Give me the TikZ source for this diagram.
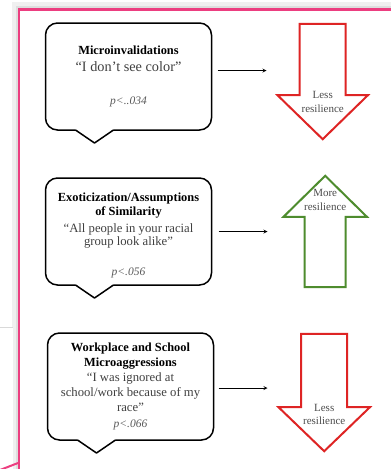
\documentclass[tikz,border=0pt]{standalone}
\usepackage{fontspec}
\setmainfont{Liberation Serif}
\usetikzlibrary{positioning}

\definecolor{framepink}{RGB}{236,62,128}
\definecolor{lessred}{RGB}{222,36,36}
\definecolor{moregreen}{RGB}{78,140,46}

\newcommand{\titlefont}{\fontsize{12.4}{14}\selectfont\bfseries\color{black}}
\newcommand{\quotefont}{\fontsize{12.7}{14}\selectfont\color{black!75}}
\newcommand{\bigquotefont}{\fontsize{14.3}{14}\selectfont\color{black!75}}
\newcommand{\pfont}{\fontsize{11.5}{14}\selectfont\itshape\color{black!65}}

\begin{document}
\begin{tikzpicture}[
    x=1pt, y=-1pt,
    node distance=48pt and 66pt,
    bubble/.style={draw, line width=1.5pt, rounded corners=12pt, minimum width=166pt,
        minimum height=107pt, inner sep=2pt, outer sep=0pt, align=center,
        font=\fontsize{12.4}{14}\selectfont},
    tail/.style={line width=1.5pt, line join=round},
    arrowbox/.style={inner sep=0pt, minimum width=#1},
    downarrow/.style={draw=lessred, line width=2pt, fill=white},
    uparrow/.style={draw=moregreen, line width=2pt, fill=white},
    arrowtext/.style={align=center, text=black!70, inner sep=0pt,
        font=\fontsize{11}{13.5}\selectfont},
    link/.style={->, >=stealth, line width=0.8pt}
]
\useasboundingbox (0,0) rectangle (391,469);
\clip (0,0) rectangle (391,469);

% frame with its shadow
\fill[black!6] (12,2) rectangle (391,469);
\fill[black!13] (15.5,5.5) rectangle (391,469);
\fill[white] (19,9.5) rectangle (391,469);
\fill[white] (0,327) rectangle (13,469);
\draw[black!15, line width=1pt] (0,327) -- (13,327);
\draw[framepink, line width=2.5pt] (19,480) |- (400,9.5);
\draw[framepink, line width=2pt] (0,470) -- (18,463);

% speech bubbles
\node[bubble] (b1) at (128.5,76.5) {{\titlefont Microinvalidations}\\[3pt]
    {\bigquotefont “I don’t see color”}\\[19pt]{\pfont p<..034}};
\node[bubble, below=of b1] (b2) {\rule{0pt}{17pt}{\titlefont Exoticization/Assumptions}\\
    {\titlefont of Similarity}\\[3pt]{\quotefont “All people in your racial}\\[-1pt]
    {\quotefont group look alike”}\\[16pt]{\pfont p<.056}};
\node[bubble, below=of b2, xshift=2pt] (b3) {{\titlefont Workplace and School}\\[1pt]
    {\titlefont Microaggressions}\\[1pt]{\quotefont “I was ignored at}\\[1pt]
    {\quotefont school/work because of my}\\[1pt]{\quotefont race”}\\[2pt]{\pfont p<.066}};

\foreach \b in {b1,b2,b3} {
    \fill[white] ([shift={(29pt,1.5pt)}]\b.south west) -- ([shift={(49pt,-13pt)}]\b.south west)
        -- ([shift={(69pt,1.5pt)}]\b.south west) -- cycle;
    \draw[tail] ([xshift=30pt]\b.south west) -- ([shift={(49pt,-13pt)}]\b.south west)
        -- ([xshift=68pt]\b.south west);
}

% resilience arrows
\node[arrowbox=90pt, minimum height=115pt, right=of b1, yshift=-5pt] (a1) {};
\node[arrowbox=83pt, minimum height=111pt, right=72pt of b2] (a2) {};
\node[arrowbox=91pt, minimum height=117pt, right=65pt of b3, yshift=-6pt] (a3) {};

\draw[downarrow] ([xshift=-23pt]a1.north) -- ([xshift=23pt]a1.north)
    -- ([shift={(23pt,44pt)}]a1.south) -- ([yshift=44pt]a1.south east) -- (a1.south)
    -- ([yshift=44pt]a1.south west) -- ([shift={(-23pt,44pt)}]a1.south) -- cycle;
\draw[uparrow] ([xshift=-20.5pt]a2.south) -- ([xshift=20.5pt]a2.south)
    -- ([shift={(20.5pt,-41pt)}]a2.north) -- ([yshift=-41pt]a2.north east) -- (a2.north)
    -- ([yshift=-41pt]a2.north west) -- ([shift={(-20.5pt,-41pt)}]a2.north) -- cycle;
\draw[downarrow] ([xshift=-23pt]a3.north) -- ([xshift=23pt]a3.north)
    -- ([shift={(23pt,44pt)}]a3.south) -- ([yshift=44pt]a3.south east) -- (a3.south)
    -- ([yshift=44pt]a3.south west) -- ([shift={(-23pt,44pt)}]a3.south) -- cycle;

\node[arrowtext] (t1) at ([yshift=-20.5pt]a1.center) {Less\\resilience};
\node[arrowtext] (t2) at ([yshift=31.5pt]a2.center) {More\\resilience};
\node[arrowtext] (t3) at ([yshift=-22pt]a3.center) {Less\\resilience};

\draw[link, shorten <=6pt, shorten >=11pt] ([yshift=6pt]b1.east) -- ([yshift=6pt]b1.east -| a1.west);
\draw[link, shorten <=7pt, shorten >=16pt] (b2.east) -- (b2.east -| a2.west);
\draw[link, shorten <=5pt, shorten >=11pt] ([yshift=-1.5pt]b3.east) -- ([yshift=-1.5pt]b3.east -| a3.west);

\end{tikzpicture}
\end{document}
